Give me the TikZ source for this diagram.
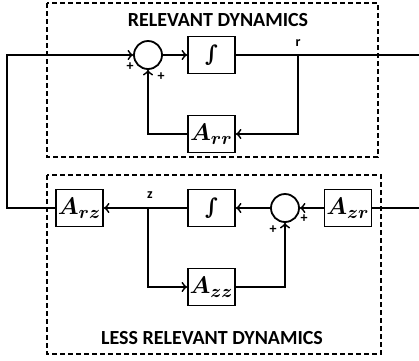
\documentclass[tikz,border=0pt]{standalone}
\usepackage{amsmath,bm}
\usepackage{fontspec}
\setmainfont{Carlito}
\newfontfamily\intfont{DejaVu Serif}
\usepackage{tikz}
\usetikzlibrary{arrows,shapes}
\tikzstyle{block}=[draw,rectangle,minimum width=23.5pt,minimum height=18.5pt,inner sep=0pt,line width=0.9pt,font=\fontsize{13}{15}\selectfont]
\tikzstyle{sum}=[draw,circle,minimum size=14pt,inner sep=0pt,line width=0.9pt]
\tikzstyle{arrow}=[draw,line width=0.9pt,->]
\tikzstyle{wire}=[draw,line width=0.9pt]
\tikzstyle{frame}=[draw,line width=0.8pt,dash pattern=on 2.5pt off 1.5pt]
\tikzstyle{title}=[font=\fontsize{10}{12}\selectfont\bfseries,inner sep=0pt]
\tikzstyle{sign}=[font=\fontsize{7}{8}\selectfont\bfseries,inner sep=0pt]
\newcommand{\integ}{\text{\intfont\bfseries\fontsize{11}{12}\selectfont ∫}}

\begin{document}
\begin{tikzpicture}[x=0.5pt,y=-0.5pt]
    \useasboundingbox (0,0) rectangle (419,360);
    \path[frame] (47,3) rectangle (378,157);
    \path[frame] (47,175) rectangle (381,354);
    \node[title] (reltitle) at (218,20) {RELEVANT DYNAMICS};
    \node[title] (lesstitle) at (212,338) {LESS RELEVANT DYNAMICS};
    \foreach \pos/\name/\lbl in {{(211.5,55)/intr/\integ}, {(211.5,134)/arr/\bm{A_{rr}}},
        {(79.5,208)/arz/\bm{A_{rz}}}, {(211.5,208)/intz/\integ},
        {(348,208)/azr/\bm{A_{zr}}}, {(211.5,287)/azz/\bm{A_{zz}}}}
        \node[block] (\name) at \pos {$\lbl$};
    \node[sum] (sumr) at (148,55) {};
    \node[sum] (sumz) at (285,208) {};
    \coordinate (rsplit) at (298,55);
    \coordinate (rout) at (419,55);
    \coordinate (zsplit) at (148,208);
    \coordinate (zin) at (419,208);
    \coordinate (lefttop) at (7,55);
    \coordinate (leftbot) at (7,208);
    % relevant loop
    \path[arrow] (arz.west) -- (leftbot) -- (lefttop) -- (sumr.west);
    \path[arrow] (sumr) -- (intr);
    \path[wire] (intr) -- (rsplit) -- (rout);
    \path[arrow] (rsplit) |- (arr);
    \path[arrow] (arr) -| (sumr);
    % less relevant loop
    \path[wire] (zin) -- (azr);
    \foreach \source/\dest in {azr/sumz, sumz/intz, intz/arz}
        \path[arrow] (\source) -- (\dest);
    \path[arrow] (zsplit) |- (azz);
    \path[arrow] (azz) -| (sumz);
    % signs
    \foreach \pos/\name/\txt in {{(298,43)/rlabel/r}, {(150,195)/zlabel/z},
        {(130,67)/pra/+}, {(161,77)/prb/+}, {(273,230)/pza/+}, {(304,219)/pzb/+}}
        \node[sign] (\name) at \pos {\txt};
\end{tikzpicture}
\end{document}
